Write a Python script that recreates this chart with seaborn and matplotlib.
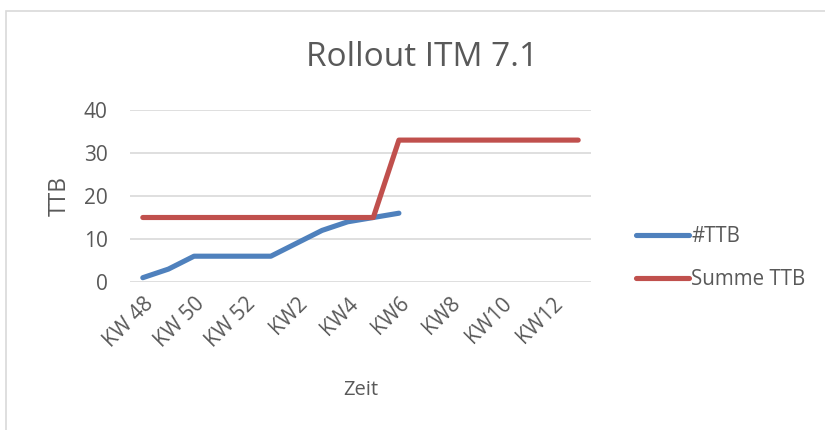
import numpy as np
import pandas as pd
import seaborn as sns
import matplotlib.pyplot as plt
from matplotlib.patches import Rectangle

# weeks (every week, labels shown every second one)
weeks = ["KW 48", "KW 49", "KW 50", "KW 51", "KW 52", "KW1", "KW2", "KW3", "KW4",
         "KW5", "KW6", "KW7", "KW8", "KW9", "KW10", "KW11", "KW12", "KW13"]
ttb = [1, 3, 6, 6, 6, 6, 9, 12, 14, 15, 16] + [np.nan] * 7
summe_ttb = [15, 15, 15, 15, 15, 15, 15, 15, 15, 15, 33, 33, 33, 33, 33, 33, 33, 33]
y_ticks = [0, 10, 20, 30, 40]

GREY = "#595959"
BLUE = "#4F81BD"
RED = "#C0504D"

sns.set_style("white")
plt.rcParams['font.family'] = ['Open Sans', 'DejaVu Sans']

df = pd.DataFrame({"idx": range(len(weeks)), "#TTB": ttb, "Summe TTB": summe_ttb})
long = df.melt(id_vars="idx", var_name="serie", value_name="wert").dropna()

W, H = 825, 430
fig = plt.figure(figsize=(W / 100, H / 100), dpi=100)
ax = fig.add_axes([130 / W, 1 - 282 / H, (591 - 130) / W, (282 - 110) / H])

# chart frame like the excel chart object
fig.patches.append(Rectangle((6 / W, -0.1), 1.2, (H - 11) / H + 0.1,
                             transform=fig.transFigure, fill=False,
                             edgecolor="#d9d9d9", linewidth=1.2))

sns.lineplot(data=long, x="idx", y="wert", hue="serie", palette=[BLUE, RED],
             linewidth=3.7, sort=False, ax=ax, legend=False,
             solid_capstyle="round", solid_joinstyle="round")

ax.set_xlim(-0.5, len(weeks) - 0.5)
ax.set_ylim(0, 40)
ax.set_yticks(y_ticks)
ax.yaxis.grid(True, color="#d9d9d9", linewidth=1.2)
ax.set_axisbelow(True)
for s in ax.spines.values():
    s.set_visible(False)

ax.set_xticks(range(0, len(weeks), 2))
ax.set_xticklabels(weeks[::2], rotation=45, ha="right", rotation_mode="anchor")
ax.tick_params(axis="both", length=0, colors=GREY, labelsize=15)
ax.tick_params(axis="x", pad=8)
ax.tick_params(axis="y", pad=16)

ax.set_xlabel("Zeit", color=GREY, fontsize=14.5)
ax.xaxis.set_label_coords(0.5, (282 - 390) / 172)
ax.xaxis.label.set_va("center")
ax.set_ylabel("TTB", color=GREY, fontsize=16.5)
ax.yaxis.set_label_coords((60 - 130) / 461, 0.5)
ax.yaxis.label.set_va("center")

fig.text(422 / W, 1 - 57 / H, "Rollout ITM 7.1", color=GREY, fontsize=24,
         ha="center", va="center")

# legend at the right
handles = [plt.Line2D([], [], color=BLUE, linewidth=3.7, solid_capstyle="round"),
           plt.Line2D([], [], color=RED, linewidth=3.7, solid_capstyle="round")]
fig.legend(handles, ["#TTB", "Summe TTB"], loc="center left",
           bbox_to_anchor=(617 / W, 1 - 258 / H), frameon=False,
           fontsize=14.8, labelcolor=GREY, handlelength=2.6, handletextpad=0.1,
           labelspacing=1.05)

fig.savefig("out.png", dpi=100)
